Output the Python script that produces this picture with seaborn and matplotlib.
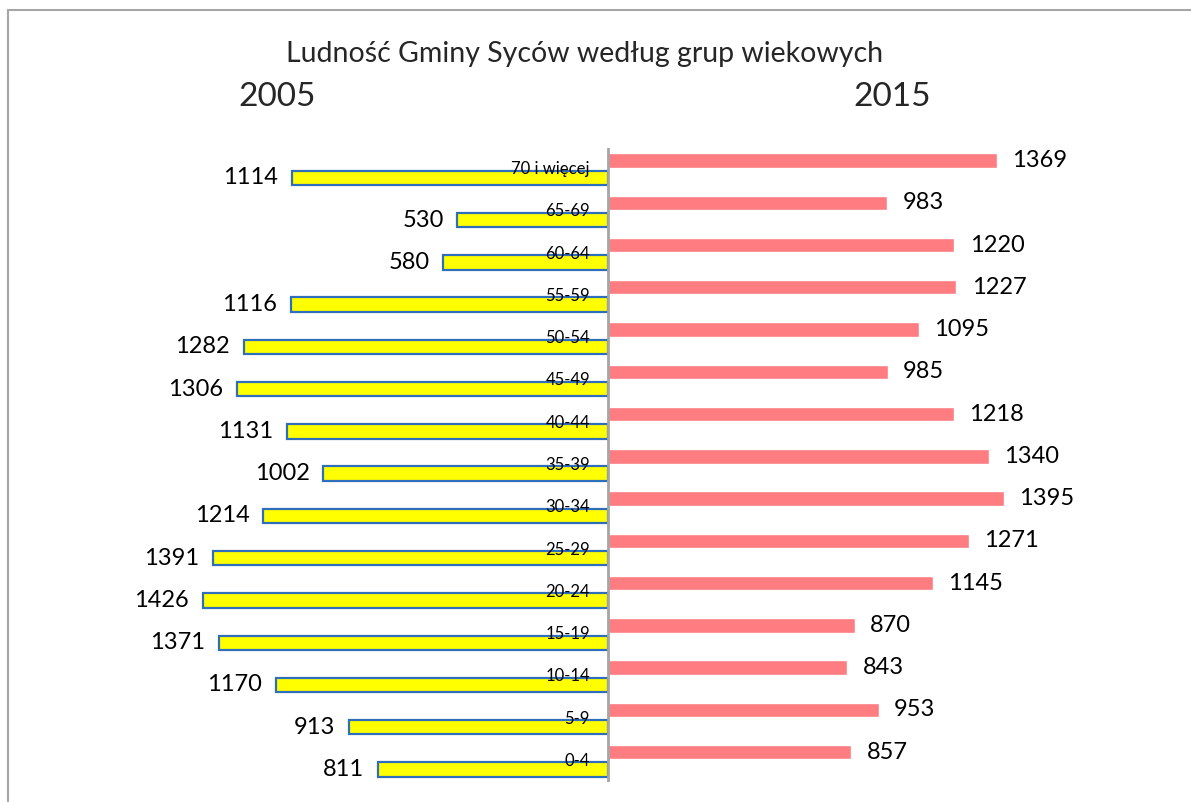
import matplotlib
matplotlib.use("Agg")
import matplotlib.pyplot as plt
from matplotlib.patches import Rectangle
import seaborn as sns
import pandas as pd

# age groups, top to bottom as in the chart
groups = ["70 i więcej", "65-69", "60-64", "55-59", "50-54", "45-49", "40-44",
          "35-39", "30-34", "25-29", "20-24", "15-19", "10-14", "5-9", "0-4"]
pop_2005 = [1114, 530, 580, 1116, 1282, 1306, 1131, 1002, 1214, 1391, 1426, 1371, 1170, 913, 811]
pop_2015 = [1369, 983, 1220, 1227, 1095, 985, 1218, 1340, 1395, 1271, 1145, 870, 843, 953, 857]
years = ["2015", "2005"]

sns.set_style("white")
plt.rcParams["font.family"] = ["Lato", "DejaVu Sans"]

# 2005 goes to the left, so negate it
df = pd.DataFrame({
    "grupa": groups * 2,
    "rok": ["2015"] * len(groups) + ["2005"] * len(groups),
    "ludnosc": pop_2015 + [-v for v in pop_2005],
})

W, H = 1191, 802
fig = plt.figure(figsize=(W / 100, H / 100), dpi=100)
ax = fig.add_axes([60 / W, 20 / H, 1090 / W, 634 / H])

sns.barplot(data=df, x="ludnosc", y="grupa", hue="rok", hue_order=years, order=groups,
            palette={"2015": "#FF7C80", "2005": "#FFFF00"}, saturation=1,
            width=0.82, gap=0.17, orient="h", errorbar=None, legend=False, ax=ax)

for c in ax.containers:
    left = c.patches[0].get_width() < 0
    if left:
        for p in c.patches:
            p.set_edgecolor("#2F6EBA")
            p.set_linewidth(1.6)
    labels = [f"{abs(p.get_width()):.0f}" for p in c.patches]
    ax.bar_label(c, labels=labels, padding=10 if left else 11, fontsize=17, color="black")

ax.set_xlim((60 - 608) / 0.284, (1150 - 608) / 0.284)
ax.set_ylim(len(groups) - 0.5, -0.5)
ax.axvline(0, color="#A6A6A6", lw=2, zorder=5)

# category labels sit on the axis
for i, g in enumerate(groups):
    ax.annotate(g, xy=(0, i), xytext=(-13, 0), textcoords="offset points",
                ha="right", va="center", fontsize=12, color="black", zorder=6)

ax.set_xlabel("")
ax.set_ylabel("")
ax.set_xticks([])
ax.set_yticks([])
sns.despine(ax=ax, left=True, bottom=True)

fig.text(585 / W, 1 - 62 / H, "Ludność Gminy Syców według grup wiekowych",
         ha="center", va="baseline", fontsize=20.5)
fig.text(277 / W, 1 - 106 / H, "2005", ha="center", va="baseline", fontsize=24)
fig.text(892 / W, 1 - 106 / H, "2015", ha="center", va="baseline", fontsize=24)

fig.add_artist(Rectangle((8 / W, -0.1), 1.5, 1.1 - 10 / H, transform=fig.transFigure,
                         fill=False, ec="#A6A6A6", lw=1.5, clip_on=False))

fig.savefig("out.png", dpi=100)
